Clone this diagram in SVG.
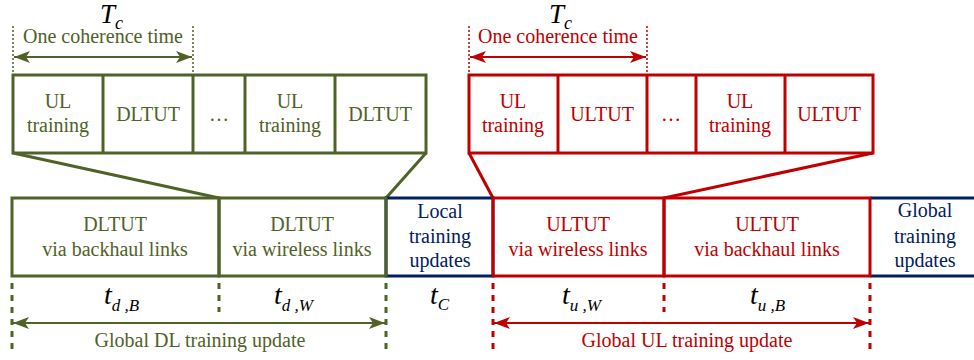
<svg xmlns="http://www.w3.org/2000/svg" width="974" height="360" viewBox="0 0 974 360" font-family="'Liberation Serif', 'Times New Roman', serif">
<defs>
<style>
text{font-family:"Liberation Serif","Times New Roman",serif;text-anchor:middle}
.g{fill:#4F6228}.r{fill:#C00000}.b{fill:#002060}.k{fill:#000}
.lab{font-size:20px}
.st{text-anchor:start}
.gs{stroke:#4F6228;fill:none;stroke-width:3}
.rs{stroke:#C00000;fill:none;stroke-width:3}
.bs{stroke:#002060;fill:none;stroke-width:3}
.dotg{stroke:#4F6228;stroke-width:1.5;stroke-dasharray:2 2;fill:none}
.dotr{stroke:#C00000;stroke-width:1.5;stroke-dasharray:2 2;fill:none}
.dashg{stroke:#4F6228;stroke-width:3;stroke-dasharray:6 6;fill:none}
.dashr{stroke:#C00000;stroke-width:3;stroke-dasharray:6 6;fill:none}
.it{font-style:italic}
</style>
<marker id="ag" viewBox="0 0 16 12" refX="16" refY="6" markerWidth="16" markerHeight="12" markerUnits="userSpaceOnUse" orient="auto-start-reverse"><path d="M0,0 L16,6 L0,12 L4,6 Z" fill="#4F6228"/></marker>
<marker id="ar" viewBox="0 0 16 12" refX="16" refY="6" markerWidth="16" markerHeight="12" markerUnits="userSpaceOnUse" orient="auto-start-reverse"><path d="M0,0 L16,6 L0,12 L4,6 Z" fill="#C00000"/></marker>
</defs>
<rect width="974" height="360" fill="#fff"/>

<g id="connectors">
<line class="gs" x1="13" y1="153" x2="219" y2="198"/>
<line class="gs" x1="426" y1="153" x2="386" y2="198"/>
<line class="rs" x1="469" y1="153" x2="493" y2="198"/>
<line class="rs" x1="873" y1="153" x2="664" y2="198"/>

<line class="dotg" x1="13" y1="26" x2="13" y2="74"/>
<line class="dotg" x1="193" y1="26" x2="193" y2="74"/>
<line x1="14" y1="57" x2="192" y2="57" stroke="#4F6228" stroke-width="2" marker-start="url(#ag)" marker-end="url(#ag)"/>
<line class="dotr" x1="469" y1="26" x2="469" y2="74"/>
<line class="dotr" x1="647" y1="26" x2="647" y2="74"/>
<line x1="470" y1="57" x2="646" y2="57" stroke="#C00000" stroke-width="2" marker-start="url(#ar)" marker-end="url(#ar)"/>

<line class="dashg" x1="12" y1="283" x2="12" y2="350"/>
<line class="dashg" x1="219" y1="283" x2="219" y2="312"/>
<line class="dashg" x1="386" y1="283" x2="386" y2="350"/>
<line x1="13" y1="323" x2="385" y2="323" stroke="#4F6228" stroke-width="2" marker-start="url(#ag)" marker-end="url(#ag)"/>
<line class="dashr" x1="493" y1="283" x2="493" y2="350"/>
<line class="dashr" x1="664" y1="283" x2="664" y2="312"/>
<line class="dashr" x1="870" y1="283" x2="870" y2="350"/>
<line x1="494" y1="323" x2="869" y2="323" stroke="#C00000" stroke-width="2" marker-start="url(#ar)" marker-end="url(#ar)"/>
</g>

<g id="dl-coherence">
<text class="k it st" x="100" y="23" font-size="27">T<tspan font-size="18" dy="6">c</tspan></text>
<text class="g lab" x="103" y="43">One coherence time</text>
<rect class="gs" x="13" y="75" width="413" height="78"/>
<line class="gs" x1="103" y1="75" x2="103" y2="153"/>
<line class="gs" x1="193" y1="75" x2="193" y2="153"/>
<line class="gs" x1="245" y1="75" x2="245" y2="153"/>
<line class="gs" x1="335" y1="75" x2="335" y2="153"/>
<text class="g lab" x="58" y="108">UL</text><text class="g lab" x="58" y="132">training</text>
<text class="g lab" x="148" y="121">DLTUT</text>
<text class="g lab" x="219" y="121">…</text>
<text class="g lab" x="290" y="108">UL</text><text class="g lab" x="290" y="132">training</text>
<text class="g lab" x="380" y="121">DLTUT</text>
</g>

<g id="ul-coherence">
<text class="k it st" x="549" y="23" font-size="27">T<tspan font-size="18" dy="6">c</tspan></text>
<text class="r lab" x="558" y="43">One coherence time</text>
<rect class="rs" x="469" y="75" width="404" height="78"/>
<line class="rs" x1="558" y1="75" x2="558" y2="153"/>
<line class="rs" x1="647" y1="75" x2="647" y2="153"/>
<line class="rs" x1="696" y1="75" x2="696" y2="153"/>
<line class="rs" x1="785" y1="75" x2="785" y2="153"/>
<text class="r lab" x="513" y="108">UL</text><text class="r lab" x="513" y="132">training</text>
<text class="r lab" x="602" y="121">ULTUT</text>
<text class="r lab" x="671" y="121">…</text>
<text class="r lab" x="740" y="108">UL</text><text class="r lab" x="740" y="132">training</text>
<text class="r lab" x="829" y="121">ULTUT</text>
</g>

<g id="local-updates">
<rect class="bs" x="386" y="198" width="107" height="78"/>
<text class="b lab" x="440" y="218">Local</text>
<text class="b lab" x="440" y="243">training</text>
<text class="b lab" x="440" y="267">updates</text>
<text class="k it st" x="430" y="304" font-size="28">t<tspan font-size="17" dy="6">C</tspan></text>
</g>
<g id="global-updates">
<path class="bs" d="M870,198 H974 M870,276 H974"/>
<text class="b lab" x="925" y="217">Global</text>
<text class="b lab" x="925" y="243">training</text>
<text class="b lab" x="925" y="267">updates</text>
</g>
<g id="dl-backhaul">
<rect class="gs" x="12" y="198" width="207" height="78"/>
<text class="g lab" x="115" y="231">DLTUT</text>
<text class="g lab" x="115" y="256">via backhaul links</text>
<text class="k it st" x="104" y="304" font-size="28">t<tspan font-size="17" dy="7">d ,B</tspan></text>
</g>
<g id="dl-wireless">
<rect class="gs" x="219" y="198" width="167" height="78"/>
<text class="g lab" x="302" y="231">DLTUT</text>
<text class="g lab" x="302" y="256">via wireless links</text>
<text class="k it st" x="274" y="304" font-size="28">t<tspan font-size="17" dy="7">d ,W</tspan></text>
</g>
<g id="ul-wireless">
<rect class="rs" x="493" y="198" width="171" height="78"/>
<text class="r lab" x="578" y="231">ULTUT</text>
<text class="r lab" x="578" y="256">via wireless links</text>
<text class="k it st" x="562" y="304" font-size="28">t<tspan font-size="17" dy="7">u ,W</tspan></text>
</g>
<g id="ul-backhaul">
<rect class="rs" x="664" y="198" width="206" height="78"/>
<text class="r lab" x="767" y="231">ULTUT</text>
<text class="r lab" x="767" y="256">via backhaul links</text>
<text class="k it st" x="750" y="304" font-size="28">t<tspan font-size="17" dy="7">u ,B</tspan></text>
</g>
<g id="dim-labels">
<text class="g lab" x="200" y="347">Global DL training update</text>
<text class="r lab" x="687" y="347">Global UL training update</text>
</g>
</svg>
